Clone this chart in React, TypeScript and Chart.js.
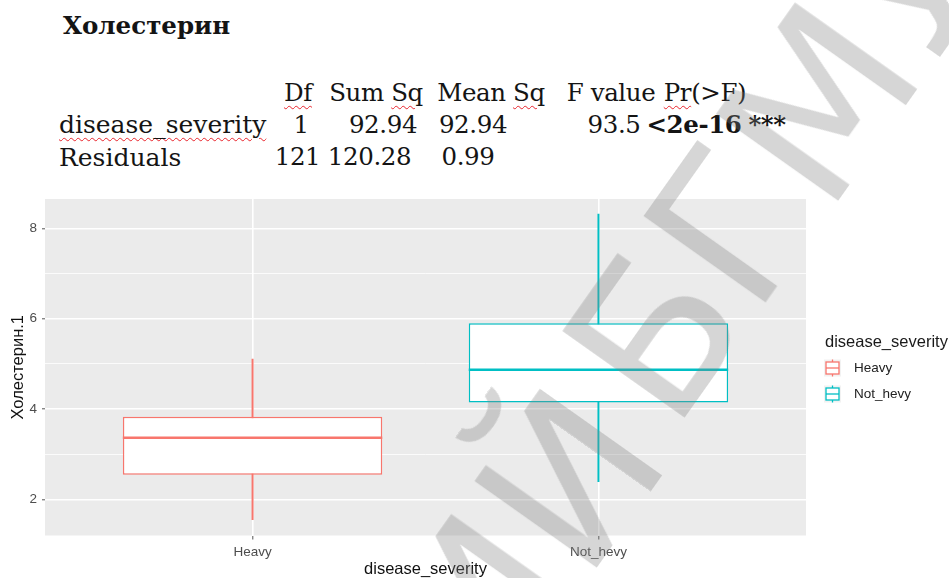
import React, { useEffect, useRef } from 'react';
import { Chart, registerables } from 'chart.js';

Chart.register(...registerables);

// ---------- data ----------
const pageTitle = 'Холестерин';
const anovaHeader = ['Df', 'Sum Sq', 'Mean Sq', 'F value', 'Pr(>F)'];
const anovaRow1 = ['disease_severity', '1', '92.94', '92.94', '93.5', '<2e-16', '***'];
const anovaRow2 = ['Residuals', '121', '120.28', '0.99'];
const spellFlagged = ['disease_severity', 'Df', 'Sq', 'Pr'];

const categories = ['Heavy', 'Not_hevy'];
const whiskerLow = [1.55, 2.39];
const quartile1 = [2.545, 4.146];
const medians = [3.365, 4.87];
const quartile3 = [3.83, 5.9];
const whiskerHigh = [5.107, 8.317];
const yTickValues = [2, 3, 4, 5, 6, 7, 8];
const yMajorTicks = [2, 4, 6, 8];
const seriesColors = ['#F8766D', '#00BFC4'];
const axisTitleX = 'disease_severity';
const axisTitleY = 'Холестерин.1';
const legendTitle = 'disease_severity';
const watermarkBefore = 'РЕПОЗИТОРИЙ';
const watermarkAfter = 'БГМУ';

// ---------- styling ----------
const SANS = '"Liberation Sans", Arial, sans-serif';
const SERIF = '"DejaVu Serif", serif';
const TABLE_SIZE = 24.5;

const panelBackground = {
  id: 'panelBackground',
  beforeDraw(chart: any) {
    const { ctx, chartArea } = chart;
    ctx.save();
    ctx.fillStyle = '#EBEBEB';
    ctx.fillRect(chartArea.left, chartArea.top, chartArea.right - chartArea.left, chartArea.bottom - chartArea.top);
    ctx.restore();
  },
};

const medianLines = {
  id: 'medianLines',
  afterDatasetsDraw(chart: any) {
    const meta = chart.getDatasetMeta(0);
    const yScale = chart.scales.y;
    const ctx = chart.ctx;
    meta.data.forEach((bar: any, i: number) => {
      const { x, width } = bar.getProps(['x', 'width'], true);
      const py = yScale.getPixelForValue(medians[i]);
      ctx.save();
      ctx.strokeStyle = seriesColors[i];
      ctx.lineWidth = 2.4;
      ctx.beginPath();
      ctx.moveTo(x - width / 2, py);
      ctx.lineTo(x + width / 2, py);
      ctx.stroke();
      ctx.restore();
    });
  },
};

const ggLegend = {
  id: 'ggLegend',
  afterDraw(chart: any) {
    const ctx = chart.ctx;
    ctx.save();
    ctx.textBaseline = 'middle';
    ctx.textAlign = 'left';
    ctx.fillStyle = '#1a1a1a';
    ctx.font = `16.5px ${SANS}`;
    ctx.fillText(legendTitle, 825, 152);
    categories.forEach((name, i) => {
      const cy = 178 + i * 26;
      const kx = 824;
      const ks = 17;
      const cx = kx + ks / 2;
      ctx.fillStyle = '#F2F2F2';
      ctx.fillRect(kx, cy - ks / 2, ks, ks);
      ctx.strokeStyle = seriesColors[i];
      ctx.lineWidth = 1.3;
      ctx.beginPath();
      ctx.moveTo(cx, cy - 8.5);
      ctx.lineTo(cx, cy + 8.5);
      ctx.stroke();
      ctx.fillStyle = '#FFFFFF';
      ctx.fillRect(kx + 2, cy - 6, ks - 4, 12);
      ctx.strokeRect(kx + 2, cy - 6, ks - 4, 12);
      ctx.beginPath();
      ctx.moveTo(kx + 2, cy);
      ctx.lineTo(kx + ks - 2, cy);
      ctx.stroke();
      ctx.fillStyle = '#222';
      ctx.font = `13.5px ${SANS}`;
      ctx.fillText(name, 854, cy);
    });
    ctx.restore();
  },
};

function withFlags(text: string) {
  const re = new RegExp(`(${spellFlagged.join('|')})`, 'g');
  return text.split(re).map((part, i) =>
    spellFlagged.includes(part) ? (
      <span
        key={i}
        style={{
          textDecorationLine: 'underline',
          textDecorationStyle: 'wavy',
          textDecorationColor: '#e8242c',
          textDecorationThickness: '1px',
          textUnderlineOffset: '4px',
        }}
      >
        {part}
      </span>
    ) : (
      <span key={i}>{part}</span>
    )
  );
}

function SerifText(props: { x: number; baseline: number; center?: boolean; bold?: boolean; size?: number; spacing?: number; text: string }) {
  const size = props.size ?? TABLE_SIZE;
  const style: React.CSSProperties = {
    position: 'absolute',
    top: props.baseline - 0.846 * size,
    left: props.x,
    fontFamily: SERIF,
    fontSize: size,
    lineHeight: 1,
    whiteSpace: 'nowrap',
    letterSpacing: props.spacing ?? -0.4,
    fontWeight: props.bold ? 'bold' : 'normal',
    color: '#141414',
    transform: props.center ? 'translateX(-50%)' : undefined,
  };
  return <div style={style}>{withFlags(props.text)}</div>;
}

const headerCenters = [298, 376, 491, 611, 705];
const row1Centers = [301, 383, 473, 614, 694, 767];
const row2Centers = [297.5, 369.5, 468];

export default function App() {
  const ref = useRef<HTMLCanvasElement>(null);

  useEffect(() => {
    const xs = categories.map((_, i) => i + 1);
    const chart = new Chart(ref.current as HTMLCanvasElement, {
      type: 'bar',
      data: {
        datasets: [
          {
            label: 'box',
            data: xs.map((x, i) => ({ x, y: [quartile1[i], quartile3[i]] })),
            backgroundColor: '#FFFFFF',
            borderColor: seriesColors,
            borderWidth: 1.5,
            borderSkipped: false,
            barPercentage: 0.75,
            categoryPercentage: 1,
            grouped: false,
            order: 1,
          } as any,
          {
            label: 'whisker',
            data: xs.map((x, i) => ({ x, y: [whiskerLow[i], whiskerHigh[i]] })),
            backgroundColor: seriesColors,
            borderWidth: 0,
            barThickness: 1.3,
            grouped: false,
            order: 2,
          } as any,
        ],
      },
      options: {
        animation: false,
        responsive: true,
        maintainAspectRatio: false,
        events: [],
        layout: { padding: { top: 9, right: 143, bottom: 0, left: 0 } },
        plugins: { legend: { display: false }, tooltip: { enabled: false } },
        scales: {
          x: {
            type: 'linear',
            offset: false,
            min: 0.4,
            max: 2.6,
            afterBuildTicks: (s: any) => {
              s.ticks = xs.map((v) => ({ value: v }));
            },
            afterFit: (s: any) => {
              s.height = 42.5;
              s.paddingLeft = 0;
              s.paddingRight = 0;
            },
            ticks: {
              autoSkip: false,
              maxRotation: 0,
              padding: 5,
              color: '#4D4D4D',
              font: { family: SANS, size: 13.5 },
              callback: (_v: any, idx: number) => categories[idx],
            },
            grid: { offset: false, color: '#FFFFFF', lineWidth: 1.6, tickColor: '#555', tickLength: 4, tickWidth: 1 },
            border: { display: false },
            title: {
              display: true,
              text: axisTitleX,
              color: '#111',
              font: { family: SANS, size: 16.5, lineHeight: 1 },
              padding: 0,
            },
          },
          y: {
            type: 'linear',
            min: 1.2,
            max: 8.65,
            afterBuildTicks: (s: any) => {
              s.ticks = yTickValues.map((v) => ({ value: v }));
            },
            afterFit: (s: any) => {
              s.width = 45;
              s.paddingTop = 0;
              s.paddingBottom = 0;
            },
            ticks: {
              autoSkip: false,
              padding: 5,
              color: '#4D4D4D',
              font: { family: SANS, size: 13.5 },
              callback: (v: any) => (yMajorTicks.includes(v) ? String(v) : ''),
            },
            grid: {
              color: '#FFFFFF',
              lineWidth: (c: any) => (yMajorTicks.includes(c.tick?.value) ? 1.6 : 0.8),
              tickColor: (c: any) => (yMajorTicks.includes(c.tick?.value) ? '#555' : 'rgba(0,0,0,0)'),
              tickLength: 3,
              tickWidth: 1,
            },
            border: { display: false },
            title: {
              display: true,
              text: axisTitleY,
              color: '#111',
              font: { family: SANS, size: 16.5, lineHeight: 1 },
              padding: { top: 10, bottom: 0 },
            },
          },
        },
      } as any,
      plugins: [panelBackground, medianLines, ggLegend],
    });
    return () => chart.destroy();
  }, []);

  const wmSize = 205;
  const wmText: React.CSSProperties = {
    position: 'absolute',
    top: -0.846 * wmSize,
    fontFamily: '"DejaVu Sans", sans-serif',
    fontSize: wmSize,
    lineHeight: 1,
    whiteSpace: 'nowrap',
    color: 'rgba(128,128,128,0.32)',
  };

  return (
    <div
      style={{
        position: 'absolute',
        left: 0,
        top: 0,
        width: 949,
        height: 578,
        overflow: 'hidden',
        background: '#FFFFFF',
      }}
    >
      <SerifText x={63} baseline={35} bold spacing={0} text={pageTitle} />
      {anovaHeader.map((t, i) => (
        <SerifText key={'h' + i} x={headerCenters[i]} baseline={102} center text={t} />
      ))}
      <SerifText x={59} baseline={133.5} size={25} spacing={0} text={anovaRow1[0]} />
      {anovaRow1.slice(1).map((t, i) => (
        <SerifText key={'r1' + i} x={row1Centers[i]} baseline={133.5} center bold={i >= 4} text={t} />
      ))}
      <SerifText x={59} baseline={165.7} size={25} spacing={0} text={anovaRow2[0]} />
      {anovaRow2.slice(1).map((t, i) => (
        <SerifText key={'r2' + i} x={row2Centers[i]} baseline={165.7} center text={t} />
      ))}
      <div style={{ position: 'absolute', left: 0, top: 190, width: 949, height: 388 }}>
        <canvas ref={ref} />
      </div>
      <div
        style={{
          position: 'absolute',
          left: 673,
          top: 434,
          width: 0,
          height: 0,
          transform: 'rotate(-54.7deg)',
          transformOrigin: '0 0',
          pointerEvents: 'none',
        }}
      >
        <div style={{ ...wmText, right: 20, top: -0.846 * wmSize + 15 }}>{watermarkBefore}</div>
        <div style={{ ...wmText, left: 0 }}>{watermarkAfter}</div>
      </div>
    </div>
  );
}
